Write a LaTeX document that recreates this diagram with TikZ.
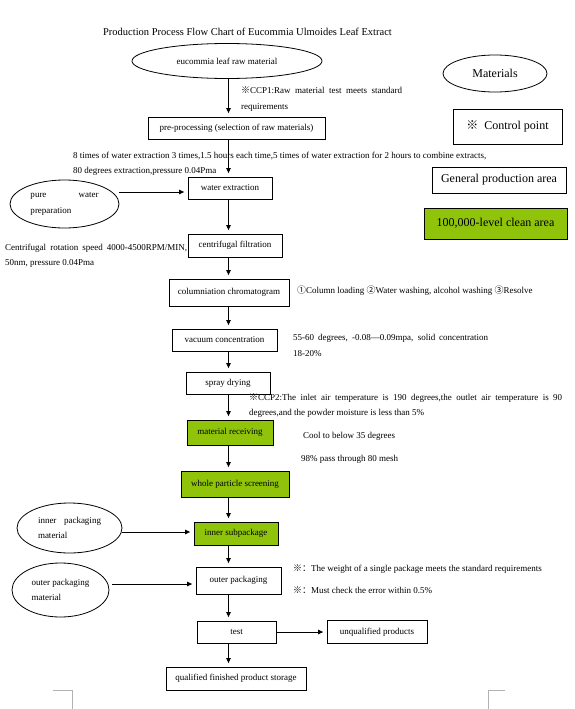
\documentclass[tikz,border=0pt]{standalone}
\usepackage{fontspec}
\setmainfont{Liberation Serif}
\newfontfamily\cjk{Noto Sans CJK SC}
\usetikzlibrary{arrows.meta,shapes.geometric}
\definecolor{cleangreen}{RGB}{143,196,10}
\newcommand\refmark{{\cjk ※}}
\begin{document}
\begin{tikzpicture}[x=1pt,y=-1pt,
    every node/.style={font=\fontsize{9}{15.5}\selectfont},
    box/.style={draw,line width=0.8pt,inner sep=0pt},
    clean/.style={box,fill=cleangreen},
    oval/.style={draw,ellipse,line width=0.8pt,inner sep=0pt,align=left},
    note/.style={anchor=west,inner sep=0pt,align=left},
    legend/.style={font=\fontsize{12}{14}\selectfont},
    flow/.style={-{Triangle[length=5pt,width=4.5pt]},line width=0.8pt,shorten >=3.5pt}]
  \useasboundingbox (0,0) rectangle (574,709);
  \node[font=\fontsize{10.5}{12}\selectfont] (title) at (247.5,32) {Production Process Flow Chart of Eucommia Ulmoides Leaf Extract};
  \coordinate (spine) at (228.5,0);
  \node[oval,minimum width=190,minimum height=35] (raw) at (227,61) {eucommia leaf raw material};
  \node[box,minimum width=177,minimum height=22] (pre) at (236.5,128) {pre-processing (selection of raw materials)};
  \node[box,minimum width=84,minimum height=22] (wext) at (230,188) {water extraction};
  \node[box,minimum width=94,minimum height=23] (cent) at (235,245.5) {centrifugal filtration};
  \node[box,minimum width=120,minimum height=27] (col) at (229,292.5) {columniation chromatogram};
  \node[box,minimum width=105,minimum height=22] (vac) at (224.5,340) {vacuum concentration};
  \node[box,minimum width=84,minimum height=22] (spray) at (228,383) {spray drying};
  \node[clean,minimum width=86,minimum height=25] (recv) at (230,432.5) {material receiving};
  \node[clean,minimum width=108,minimum height=26] (screen) at (235,484) {whole particle screening};
  \node[clean,minimum width=84,minimum height=23] (isub) at (236,533.5) {inner subpackage};
  \node[box,minimum width=85,minimum height=27] (opack) at (238.5,580.5) {outer packaging};
  \node[box,minimum width=79,minimum height=22] (test) at (236.5,632) {test};
  \node[box,minimum width=100,minimum height=23] (unq) at (377,632) {unqualified products};
  \node[box,minimum width=140,minimum height=23] (store) at (236,678.5) {qualified finished product storage};
  \node[oval,minimum width=109,minimum height=48] (pw) at (64.5,204) {\makebox[68pt][s]{pure water}\\preparation};
  \node[oval,minimum width=105,minimum height=50] (ipm) at (69.5,528) {\makebox[63pt][s]{inner packaging}\\material};
  \node[oval,minimum width=97,minimum height=54] (opm) at (60.5,590) {outer packaging\\material};
  \node[oval,legend,minimum width=104,minimum height=37] (mat) at (495,73.5) {Materials};
  \node[box,legend,minimum width=109,minimum height=35] (ctrl) at (507.5,126.5) {\refmark\ \ Control point};
  \node[box,legend,minimum width=134,minimum height=26] (gen) at (499,180) {General production area};
  \node[clean,legend,minimum width=143,minimum height=31] (area) at (495.5,223.5) {100,000-level clean area};
  \node[note] (ccp1) at (241,99) {\makebox[161pt][s]{\refmark CCP1:Raw material test meets standard}\\requirements};
  \node[note] (extr) at (73,164) {8 times of water extraction 3 times,1.5 hours each time,5 times of water extraction for 2 hours to combine extracts,\\80 degrees extraction,pressure 0.04Pma};
  \node[note] (centnote) at (5,256) {\makebox[182pt][s]{Centrifugal rotation speed 4000-4500RPM/MIN,}\\50nm, pressure 0.04Pma};
  \node[note] (colnote) at (297,291) {{\cjk ①}Column loading {\cjk ②}Water washing, alcohol washing {\cjk ③}Resolve};
  \node[note] (vacnote) at (293,345.5) {\makebox[195pt][s]{55-60 degrees, -0.08—0.09mpa, solid concentration}\\18-20\%};
  \node[note] (ccp2) at (249,405.5) {\makebox[313pt][s]{\refmark CCP2:The inlet air temperature is 190 degrees,the outlet air temperature is 90}\\degrees,and the powder moisture is less than 5\%};
  \node[note] (cool) at (303,436) {Cool to below 35 degrees};
  \node[note] (mesh) at (301,459) {98\% pass through 80 mesh};
  \node[note] (weight) at (293,569) {{\cjk ※：}The weight of a single package meets the standard requirements};
  \node[note] (err) at (293,590) {{\cjk ※：}Must check the error within 0.5\%};
  \begin{scope}[flow]
    \draw (raw.south -| spine) -- (pre.north -| spine);
    \draw (pre.south -| spine) -- (wext.north -| spine);
    \draw (wext.south -| spine) -- (cent.north -| spine);
    \draw (cent.south -| spine) -- (col.north -| spine);
    \draw (col.south -| spine) -- (vac.north -| spine);
    \draw (vac.south -| spine) -- (spray.north -| spine);
    \draw (spray.south -| spine) -- (recv.north -| spine);
    \draw (recv.south -| spine) -- (screen.north -| spine);
    \draw (screen.south -| spine) -- (isub.north -| spine);
    \draw (isub.south -| spine) -- (opack.north -| spine);
    \draw (opack.south -| spine) -- (test.north -| spine);
    \draw (test.south -| spine) -- (store.north -| spine);
    \draw (test.east) -- (unq.west);
    \draw ([yshift=12pt]pw.east) -- ([yshift=12pt]pw.east -| wext.west);
    \draw ([yshift=-4pt]ipm.east) -- ([yshift=-4pt]ipm.east -| isub.west);
    \draw ([shift={(3pt,6pt)}]opm.east) -- ([yshift=6pt]opm.east -| opack.west);
  \end{scope}
  \draw[gray!60,line width=0.6pt] (53,690) -- (72,690) -- (72,709);
  \draw[gray!60,line width=0.6pt] (488,709) -- (488,690) -- (505,690);
\end{tikzpicture}
\end{document}
